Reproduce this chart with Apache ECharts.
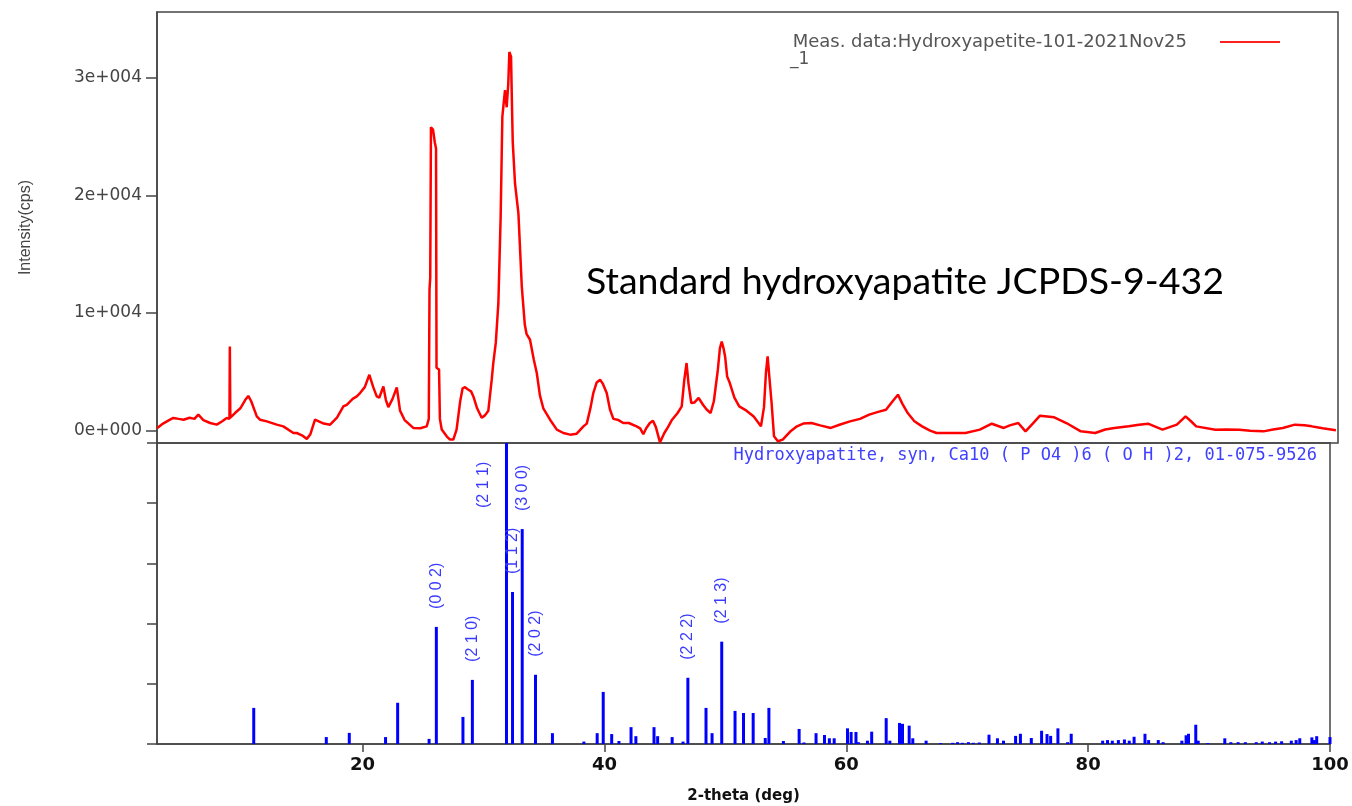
<!DOCTYPE html>
<html><head><meta charset="utf-8">
<script src="https://cdn.jsdelivr.net/npm/echarts@6/dist/echarts.min.js"></script>
<style>html,body{margin:0;padding:0;background:#fff}#c{width:1352px;height:806px}</style>
</head><body><div id="c"></div>
<script>
// ---------- data ----------
const measName = 'Meas. data:Hydroxyapetite-101-2021Nov25';
const measSuffix = '_1';
const refName = 'Hydroxyapatite, syn, Ca10 ( P O4 )6 ( O H )2, 01-075-9526';
const noteText = 'Standard hydroxyapatite JCPDS-9-432';
const xName = '2-theta (deg)';
const yName = 'Intensity(cps)';

const measTheta = [3.0,3.5,4.0,4.35,4.8,5.2,5.7,6.1,6.42,6.84,7.4,7.95,8.4,8.77,9.0,9.03,9.07,9.46,9.9,10.3,10.56,10.8,11.26,11.53,12.09,12.91,13.46,14.29,14.57,15.0,15.4,15.7,16.08,16.23,16.8,17.33,17.9,18.43,18.71,19.2,19.54,19.81,20.2,20.58,20.9,21.19,21.4,21.74,21.95,22.15,22.5,22.85,23.0,23.12,23.5,24.22,24.8,25.33,25.5,25.56,25.62,25.68,25.85,26.0,26.1,26.14,26.35,26.42,26.57,27.0,27.26,27.53,27.8,28.1,28.3,28.5,28.75,29.0,29.19,29.5,29.88,30.15,30.43,30.71,30.84,31.05,31.26,31.45,31.59,31.81,31.95,32.08,32.17,32.31,32.4,32.45,32.64,32.92,33.2,33.45,33.6,33.88,34.02,34.2,34.44,34.7,34.98,35.54,36.1,36.64,37.2,37.75,38.3,38.58,38.9,39.12,39.4,39.68,39.9,40.23,40.5,40.78,41.2,41.6,42.06,42.7,43.0,43.26,43.5,43.8,44.06,44.3,44.64,45.0,45.3,45.64,46.1,46.44,46.65,46.84,47.0,47.23,47.5,47.84,48.2,48.5,48.83,49.1,49.43,49.6,49.75,49.9,50.03,50.2,50.42,50.8,51.2,51.8,52.4,53.0,53.25,53.41,53.55,53.7,53.88,54.08,54.4,54.8,55.4,55.98,56.5,57.18,57.9,58.78,59.5,60.37,61.2,61.96,62.7,63.35,63.9,64.34,64.7,65.15,65.7,66.34,67.0,67.53,68.5,69.93,71.12,72.11,73.1,73.6,74.3,74.9,75.5,76.1,76.7,77.28,78.28,79.48,80.67,81.5,82.26,83.45,84.3,85.04,86.24,87.43,88.15,88.6,89.03,90.62,91.5,92.6,93.5,94.6,95.4,96.2,97.2,98.0,98.6,99.5,100.6];
const measCps = [200,600,900,1080,1000,930,1100,1000,1360,900,650,510,800,1080,1000,7160,1100,1500,1900,2600,2950,2500,1210,930,790,510,365,-200,-200,-400,-700,-300,930,930,600,510,1100,2060,2200,2700,2910,3200,3700,4750,3700,2910,2800,3760,2600,2000,2700,3680,2600,1700,900,230,200,365,1000,12000,13000,25800,25600,24500,24000,5350,5200,1000,100,-500,-760,-760,85,2500,3600,3700,3500,3340,2910,1900,1100,1300,1700,4330,5740,7500,10840,18200,26700,28950,27500,29500,32200,31800,27000,24560,21000,18480,12250,9000,8200,7730,7800,6000,4900,3000,1900,930,85,-200,-340,-255,365,600,2000,3200,4100,4330,4000,3200,1800,1000,900,650,650,365,200,-300,200,650,850,300,-1000,-200,300,930,1500,2060,4300,5750,4000,2350,2400,2780,2200,1800,1500,2500,5180,7000,7580,7000,6310,4600,4050,2800,2060,1700,1210,365,2000,4900,6310,4500,2350,-480,-900,-760,-100,365,600,650,450,230,500,790,1000,1360,1600,1780,2500,3060,2300,1500,800,365,0,-200,-200,-200,85,590,230,450,650,-60,600,1270,1200,1130,650,-60,-200,100,230,365,500,590,85,510,1210,800,365,85,100,85,0,-60,100,230,510,450,365,200,25];

const refTheta = [11.0,17.0,18.9,21.9,22.9,25.5,26.1,28.3,29.08,31.9,32.4,33.2,34.3,35.7,38.3,39.4,39.9,40.6,41.2,42.2,42.6,44.1,44.4,45.6,46.5,46.9,48.4,48.9,49.7,50.8,51.5,52.3,53.3,53.6,54.8,56.1,56.5,57.5,58.2,58.6,59.0,60.1,60.4,60.8,61.0,61.75,62.1,63.3,63.6,64.4,64.65,65.2,65.5,66.6,67.8,68.8,69.2,69.6,70.1,70.5,71.0,71.8,72.5,73.0,74.0,74.4,75.3,76.15,76.6,76.9,77.5,78.3,78.6,81.2,81.6,82.0,82.5,83.0,83.4,83.8,84.7,85.0,85.8,86.2,87.75,88.1,88.3,88.9,89.1,89.9,91.3,91.8,92.4,93.0,93.9,94.4,95.0,95.5,96.0,96.8,97.2,97.5,98.5,98.7,98.9,100.0];
const refInt = [12,2.3,3.7,2.3,13.7,1.7,38.9,9,21.3,100,50.5,71.4,23,3.6,0.8,3.6,17.3,3.3,1,5.6,2.6,5.6,2.6,2.3,0.8,22,12,3.6,34,11,10.3,10.3,2,12,1,5,0.5,3.6,3,1.9,1.9,5.2,4,4,0.6,1.1,4.1,8.6,1.1,7,6.7,6.1,1.9,1.1,0.3,0.4,0.6,0.4,0.6,0.4,0.5,3.1,1.9,1.1,2.7,3.4,2,4.4,3.3,2.7,5.2,0.6,3.4,1.1,1.3,1.1,1.3,1.5,1.1,2.4,3.4,1.3,1.3,0.6,1.1,2.9,3.4,6.4,1.1,0.3,1.9,0.6,0.6,0.6,0.6,0.8,0.6,0.8,0.9,1.1,1.3,1.9,2.2,1.3,2.6,2.3];

const hklLabels = ['(0 0 2)','(2 1 0)','(2 1 1)','(1 1 2)','(3 0 0)','(2 0 2)','(2 2 2)','(2 1 3)'];
const hklTheta = [26.1,29.08,31.9,32.4,33.2,34.3,46.9,49.7];

const xTickValues = [20,40,60,80,100];
const yTickValues = [0,10000,20000,30000];
const yTickLabels = ['0e+000','1e+004','2e+004','3e+004'];

// ---------- chart ----------
const measData = measTheta.map((t,i)=>[t, measCps[i]]);
const refData = refTheta.map((t,i)=>[t, refInt[i]]);
const hklData = hklTheta.map(t=>[t, refInt[refTheta.indexOf(t)]]);

const chart = echarts.init(document.getElementById('c'), null, {renderer:'canvas'});
const axisCol = '#444';
chart.setOption({
  animation:false,
  backgroundColor:'#fff',
  grid:[
    {left:157, top:12, width:1181, height:431, show:true, borderColor:axisCol, borderWidth:1.5},
    {left:157, top:443, width:1173, height:301, show:true, borderColor:axisCol, borderWidth:1.5}
  ],
  legend:[
    {data:[measName], right:67, top:28, orient:'horizontal', align:'right',
     itemWidth:60, itemHeight:2, icon:'rect',
     textStyle:{fontFamily:'DejaVu Sans', fontSize:18, color:'#555', padding:[0,28,0,0]}},
    {data:[refName], right:30, top:442, icon:'none', itemWidth:0,
     textStyle:{fontFamily:'DejaVu Sans Mono', fontSize:17, color:'#4040ff'}}
  ],
  graphic:[
    {type:'text', left:790, top:51, style:{text:measSuffix, font:'17px "DejaVu Sans"', fill:'#555'}},
    {type:'text', left:586, top:263, style:{text:noteText, font:'37.5px Lato', fill:'#000'}}
  ],
  xAxis:[
    {gridIndex:0, type:'value', min:3, max:100.77, show:false},
    {gridIndex:1, type:'value', min:3, max:100,
     axisLine:{show:true, lineStyle:{color:axisCol, width:1.5}},
     axisTick:{show:true, customValues:xTickValues, length:8, lineStyle:{color:axisCol, width:1.5}},
     axisLabel:{show:true, customValues:xTickValues, margin:12, fontFamily:'DejaVu Sans', fontWeight:'bold', fontSize:18, color:'#111'},
     splitLine:{show:false},
     name:xName, nameLocation:'middle', nameGap:45,
     nameTextStyle:{fontFamily:'DejaVu Sans', fontWeight:'bold', fontSize:15, color:'#111'}}
  ],
  yAxis:[
    {gridIndex:0, type:'value', min:-1050, max:35600,
     axisLine:{show:true, lineStyle:{color:axisCol, width:1.5}},
     axisTick:{show:true, customValues:yTickValues, length:11, lineStyle:{color:axisCol, width:1.5}},
     axisLabel:{show:true, customValues:yTickValues, margin:15,
       formatter:v=>yTickLabels[yTickValues.indexOf(v)],
       fontFamily:'DejaVu Sans', fontSize:17, color:'#444'},
     splitLine:{show:false},
     name:yName, nameLocation:'middle', nameGap:123,
     nameTextStyle:{fontFamily:'Liberation Sans', fontSize:16, color:'#444'}},
    {gridIndex:1, type:'value', min:0, max:100, interval:20,
     axisLine:{show:true, lineStyle:{color:axisCol, width:1.5}},
     axisTick:{show:true, length:10, lineStyle:{color:axisCol, width:1.5}},
     axisLabel:{show:false}, splitLine:{show:false}}
  ],
  series:[
    {name:measName, type:'line', xAxisIndex:0, yAxisIndex:0, data:measData,
     showSymbol:false, symbol:'none', color:'#ff2020',
     lineStyle:{color:'#ff0000', width:2.5}, clip:true},
    {name:refName, type:'custom', xAxisIndex:1, yAxisIndex:1, data:refData, color:'#4040ff',
     encode:{x:0, y:1},
     renderItem:(params, api)=>{
       const p0 = api.coord([api.value(0), 0]);
       const p1 = api.coord([api.value(0), api.value(1)]);
       return {type:'line', shape:{x1:p0[0], y1:p0[1], x2:p1[0], y2:p1[1]},
               style:{stroke:'#0000ff', lineWidth:3}};
     }},
    {name:'hkl', type:'custom', xAxisIndex:1, yAxisIndex:1, data:hklData,
     encode:{x:0, y:1}, silent:true,
     renderItem:(params, api)=>{
       const h = api.value(1);
       const p = api.coord([api.value(0), h]);
       let px = p[0], py = p[1] - 18;
       if (h >= 99) { px = p[0] - 23; py = params.coordSys.y + 65; }
       return {type:'text', x:px, y:py, rotation:Math.PI/2,
               style:{text:hklLabels[params.dataIndex], x:0, y:0, align:'left', verticalAlign:'middle',
                      fill:'#3a3aff', font:'16px "Liberation Sans"'}};
     }}
  ]
});
</script></body></html>
